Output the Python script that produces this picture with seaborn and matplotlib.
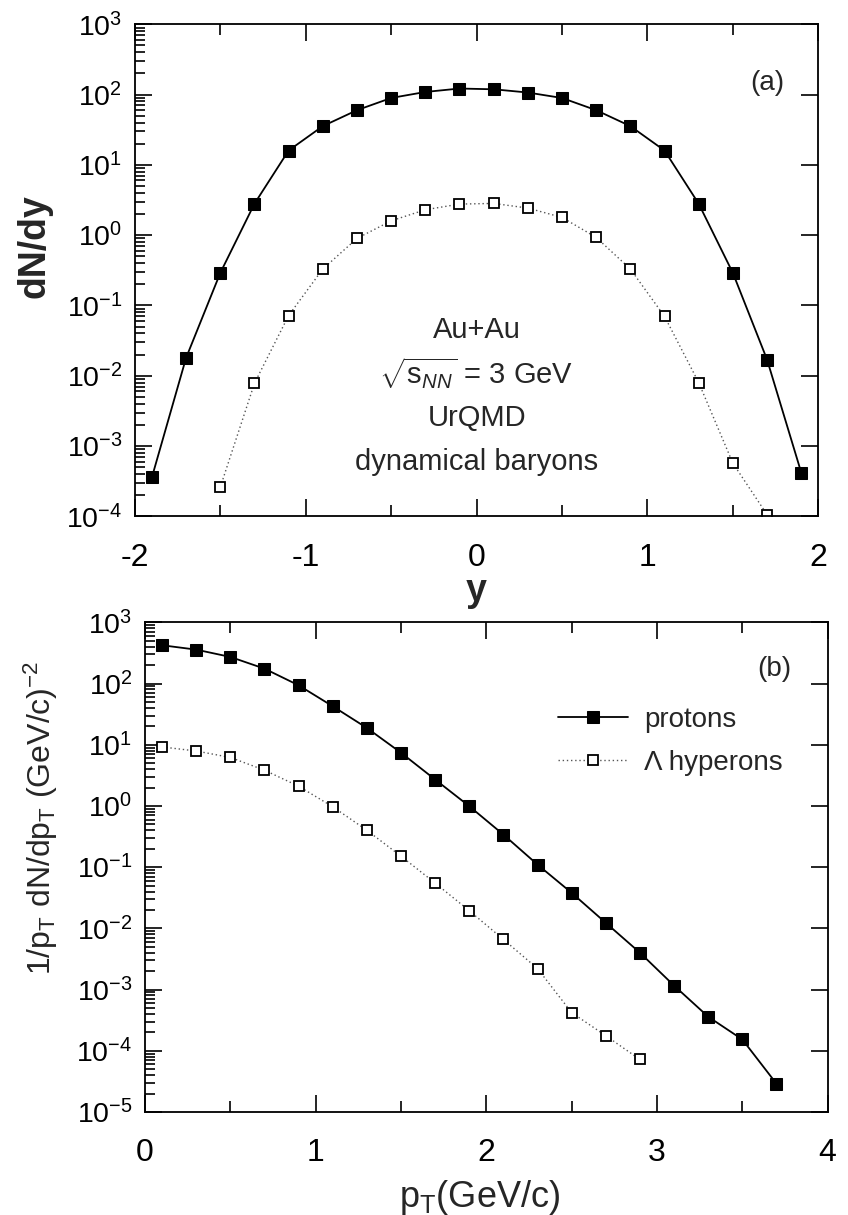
import numpy as np
import pandas as pd
import matplotlib
matplotlib.use("Agg")
import matplotlib.pyplot as plt
import seaborn as sns
from matplotlib.ticker import MultipleLocator, LogLocator, LogFormatterSciNotation, NullFormatter

# ---------------- data ----------------
y_rap = [-1.9, -1.7, -1.5, -1.3, -1.1, -0.9, -0.7, -0.5, -0.3, -0.1,
         0.1, 0.3, 0.5, 0.7, 0.9, 1.1, 1.3, 1.5, 1.7, 1.9]
dndy_protons = [3.6e-4, 0.018, 0.29, 2.8, 16, 35.6, 60, 89.5, 109, 122,
                119, 107, 89.5, 60, 35.6, 16, 2.8, 0.29, 0.017, 4.2e-4]
y_rap_lam = [-1.5, -1.3, -1.1, -0.9, -0.7, -0.5, -0.3, -0.1,
             0.1, 0.3, 0.5, 0.7, 0.9, 1.1, 1.3, 1.5, 1.7]
dndy_lambda = [2.6e-4, 7.8e-3, 0.072, 0.33, 0.9, 1.6, 2.3, 2.77,
               2.83, 2.43, 1.79, 0.93, 0.33, 0.07, 0.008, 5.7e-4, 1.06e-4]

pt_protons = [0.1, 0.3, 0.5, 0.7, 0.9, 1.1, 1.3, 1.5, 1.7, 1.9,
              2.1, 2.3, 2.5, 2.7, 2.9, 3.1, 3.3, 3.5, 3.7]
spec_protons = [422, 358, 272, 175, 93.6, 42.5, 18.8, 7.4, 2.7, 0.99,
                0.34, 0.11, 0.038, 0.0123, 4.0e-3, 1.16e-3, 3.6e-4, 1.53e-4, 2.9e-5]
pt_lambda = [0.1, 0.3, 0.5, 0.7, 0.9, 1.1, 1.3, 1.5, 1.7, 1.9,
             2.1, 2.3, 2.5, 2.7, 2.9]
spec_lambda = [9.2, 7.9, 6.2, 3.84, 2.1, 0.97, 0.40, 0.151, 0.055, 0.0194,
               6.6e-3, 2.2e-3, 4.2e-4, 1.76e-4, 7.2e-5]

annot_lines = ["Au+Au", r"$\sqrt{\mathrm{s}_{\mathit{NN}}}$ = 3 GeV", "UrQMD", "dynamical baryons"]
legend_labels = ["protons", "Λ hyperons"]

# ---------------- style ----------------
sns.set_theme(style="ticks")
plt.rcParams["font.family"] = ["Liberation Sans", "DejaVu Sans"]
plt.rcParams["mathtext.fontset"] = "custom"
plt.rcParams["mathtext.rm"] = "Liberation Sans"
plt.rcParams["mathtext.it"] = "Liberation Sans:italic"
plt.rcParams["mathtext.bf"] = "Liberation Sans:bold"
plt.rcParams["axes.unicode_minus"] = False
plt.rcParams["axes.linewidth"] = 1.3
plt.rcParams["axes.edgecolor"] = "black"

fig = plt.figure(figsize=(8.48, 12.15), dpi=100)
ax1 = fig.add_axes([0.159, 0.575, 0.806, 0.405])
ax2 = fig.add_axes([0.171, 0.0848, 0.805, 0.403])

df_p1 = pd.DataFrame({"x": y_rap, "v": dndy_protons})
df_l1 = pd.DataFrame({"x": y_rap_lam, "v": dndy_lambda})
df_p2 = pd.DataFrame({"x": pt_protons, "v": spec_protons})
df_l2 = pd.DataFrame({"x": pt_lambda, "v": spec_lambda})

prot_kw = dict(color="black", linewidth=1.3, marker="s", markersize=9,
               markerfacecolor="black", markeredgecolor="black", linestyle="-")
lam_kw = dict(color="#555555", linewidth=1.0, marker="s", markersize=7.5,
              markerfacecolor="white", markeredgecolor="black", markeredgewidth=1.3,
              linestyle=(0, (1, 2)))

sns.lineplot(data=df_p1, x="x", y="v", ax=ax1, label=legend_labels[0], **prot_kw)
sns.lineplot(data=df_l1, x="x", y="v", ax=ax1, label=legend_labels[1], **lam_kw)
sns.lineplot(data=df_p2, x="x", y="v", ax=ax2, label=legend_labels[0], **prot_kw)
sns.lineplot(data=df_l2, x="x", y="v", ax=ax2, label=legend_labels[1], **lam_kw)

for ax in (ax1, ax2):
    ax.set_yscale("log")
    ax.yaxis.set_major_locator(LogLocator(base=10, numticks=20))
    ax.yaxis.set_minor_locator(LogLocator(base=10, subs=np.arange(2, 10), numticks=20))
    ax.yaxis.set_major_formatter(LogFormatterSciNotation())
    ax.yaxis.set_minor_formatter(NullFormatter())
    ax.xaxis.set_major_locator(MultipleLocator(1))
    ax.xaxis.set_minor_locator(MultipleLocator(0.5))
    ax.tick_params(axis="x", which="both", direction="in", top=True, bottom=True,
                   labelsize=23, pad=19, width=1.2, colors="black")
    ax.tick_params(axis="x", which="major", length=12)
    ax.tick_params(axis="x", which="minor", length=8)
    ax.tick_params(axis="y", which="both", direction="in", left=True, right=True,
                   labelsize=20.5, pad=9, width=1.2, colors="black")
    ax.tick_params(axis="y", which="major", length=12)
    ax.tick_params(axis="y", which="minor", length=7, right=False)
    for s in ax.spines.values():
        s.set_visible(True)
        s.set_color("black")

ax1.set_xlim(-2, 2)
ax1.set_ylim(1e-4, 1e3)
ax2.set_xlim(0, 4)
ax2.set_ylim(1e-5, 1e3)

ax1.get_legend().remove()

ax1.set_xlabel("y", fontsize=27, fontweight="bold")
ax1.set_ylabel("dN/dy", fontsize=27, fontweight="bold")
ax1.xaxis.set_label_coords(0.5, -0.115)
ax1.yaxis.set_label_coords(-0.12, 0.55)

ax2.set_xlabel(r"p$_\mathrm{T}$(GeV/c)", fontsize=26)
ax2.set_ylabel(r"1/p$_\mathrm{T}$ dN/dp$_\mathrm{T}$ (GeV/c)$^{-2}$", fontsize=23)
ax2.xaxis.set_label_coords(0.49, -0.135)
ax2.yaxis.set_label_coords(-0.125, 0.6)

ax1.text(0.925, 0.88, "(a)", transform=ax1.transAxes, fontsize=20, ha="center", va="center")
ax2.text(0.922, 0.905, "(b)", transform=ax2.transAxes, fontsize=20, ha="center", va="center")

ann_y = [0.378, 0.292, 0.199, 0.11]
for txt, yy in zip(annot_lines, ann_y):
    ax1.text(0.5, yy, txt, transform=ax1.transAxes, fontsize=21, ha="center", va="center")

leg = ax2.legend(loc="upper left", bbox_to_anchor=(0.589, 0.85), frameon=False,
                 fontsize=20, handlelength=2.5, handletextpad=0.6, labelspacing=0.6,
                 borderaxespad=0)

fig.savefig("out.png", dpi=100, facecolor="white")
